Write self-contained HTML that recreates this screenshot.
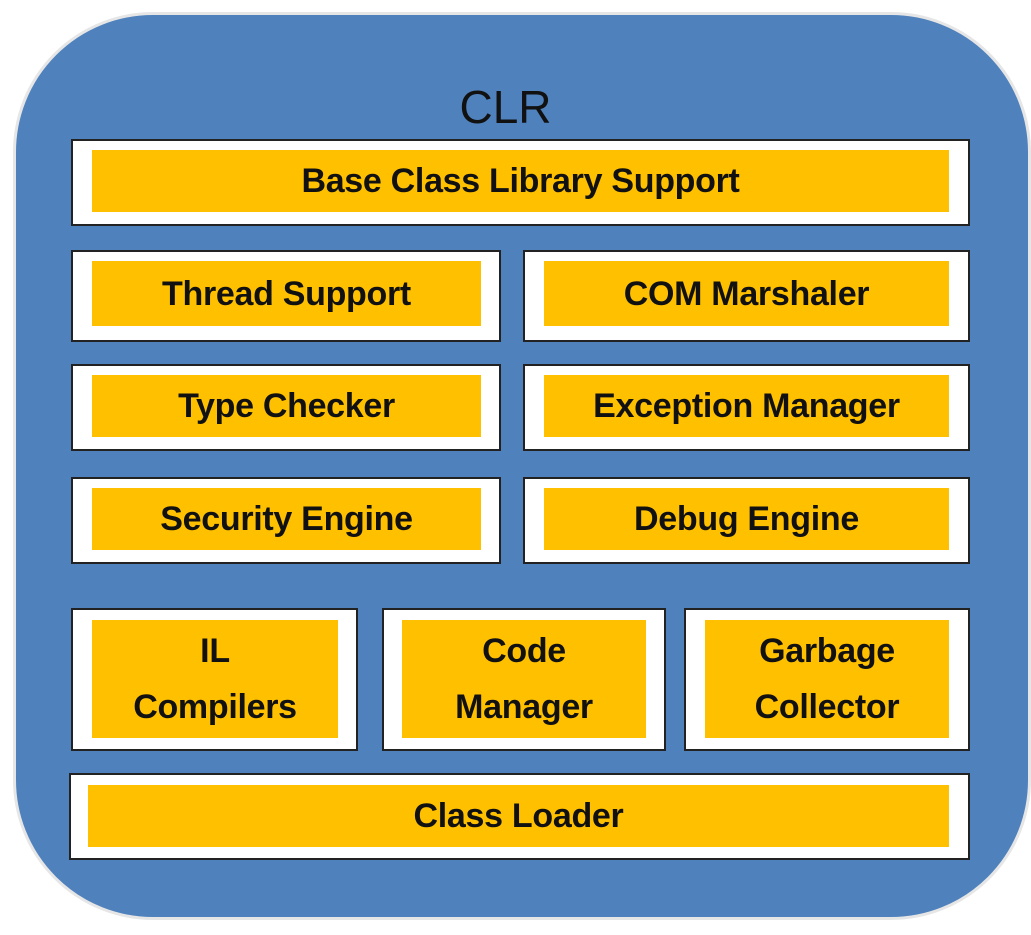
<!DOCTYPE html>
<html><head><style>
body{margin:0;width:1031px;height:935px;background:#fff;position:relative;overflow:hidden;font-family:"Liberation Sans",sans-serif;}
.outer{position:absolute;left:13px;top:12px;width:1018px;height:908px;border-radius:140px;background:#4f81bd;border:3px solid #e6e6e6;box-sizing:border-box;}
.b{position:absolute;background:#fff;border:2px solid #222;box-sizing:border-box;}
.y{position:absolute;background:#ffc000;display:flex;align-items:center;justify-content:center;text-align:center;font-weight:bold;font-size:34px;color:#111;line-height:56px;letter-spacing:-0.3px;}
.t{position:absolute;left:0;width:1031px;top:80px;text-align:center;font-size:46px;color:#111;}
</style></head><body>
<div class="outer"></div>
<div class="t" style="left:-10px">CLR</div>
<div class="b" style="left:71px;top:139px;width:899px;height:87px"></div><div class="y" style="left:92px;top:150px;width:857px;height:62px">Base Class Library Support</div>
<div class="b" style="left:71px;top:250px;width:430px;height:92px"></div><div class="y" style="left:92px;top:261px;width:389px;height:65px">Thread Support</div>
<div class="b" style="left:523px;top:250px;width:447px;height:92px"></div><div class="y" style="left:544px;top:261px;width:405px;height:65px">COM Marshaler</div>
<div class="b" style="left:71px;top:364px;width:430px;height:87px"></div><div class="y" style="left:92px;top:375px;width:389px;height:62px">Type Checker</div>
<div class="b" style="left:523px;top:364px;width:447px;height:87px"></div><div class="y" style="left:544px;top:375px;width:405px;height:62px">Exception Manager</div>
<div class="b" style="left:71px;top:477px;width:430px;height:87px"></div><div class="y" style="left:92px;top:488px;width:389px;height:62px">Security Engine</div>
<div class="b" style="left:523px;top:477px;width:447px;height:87px"></div><div class="y" style="left:544px;top:488px;width:405px;height:62px">Debug Engine</div>
<div class="b" style="left:71px;top:608px;width:287px;height:143px"></div><div class="y" style="left:92px;top:620px;width:246px;height:118px">IL<br>Compilers</div>
<div class="b" style="left:382px;top:608px;width:284px;height:143px"></div><div class="y" style="left:402px;top:620px;width:244px;height:118px">Code<br>Manager</div>
<div class="b" style="left:684px;top:608px;width:286px;height:143px"></div><div class="y" style="left:705px;top:620px;width:244px;height:118px">Garbage<br>Collector</div>
<div class="b" style="left:69px;top:773px;width:901px;height:87px"></div><div class="y" style="left:88px;top:785px;width:861px;height:62px">Class Loader</div>
</body></html>
